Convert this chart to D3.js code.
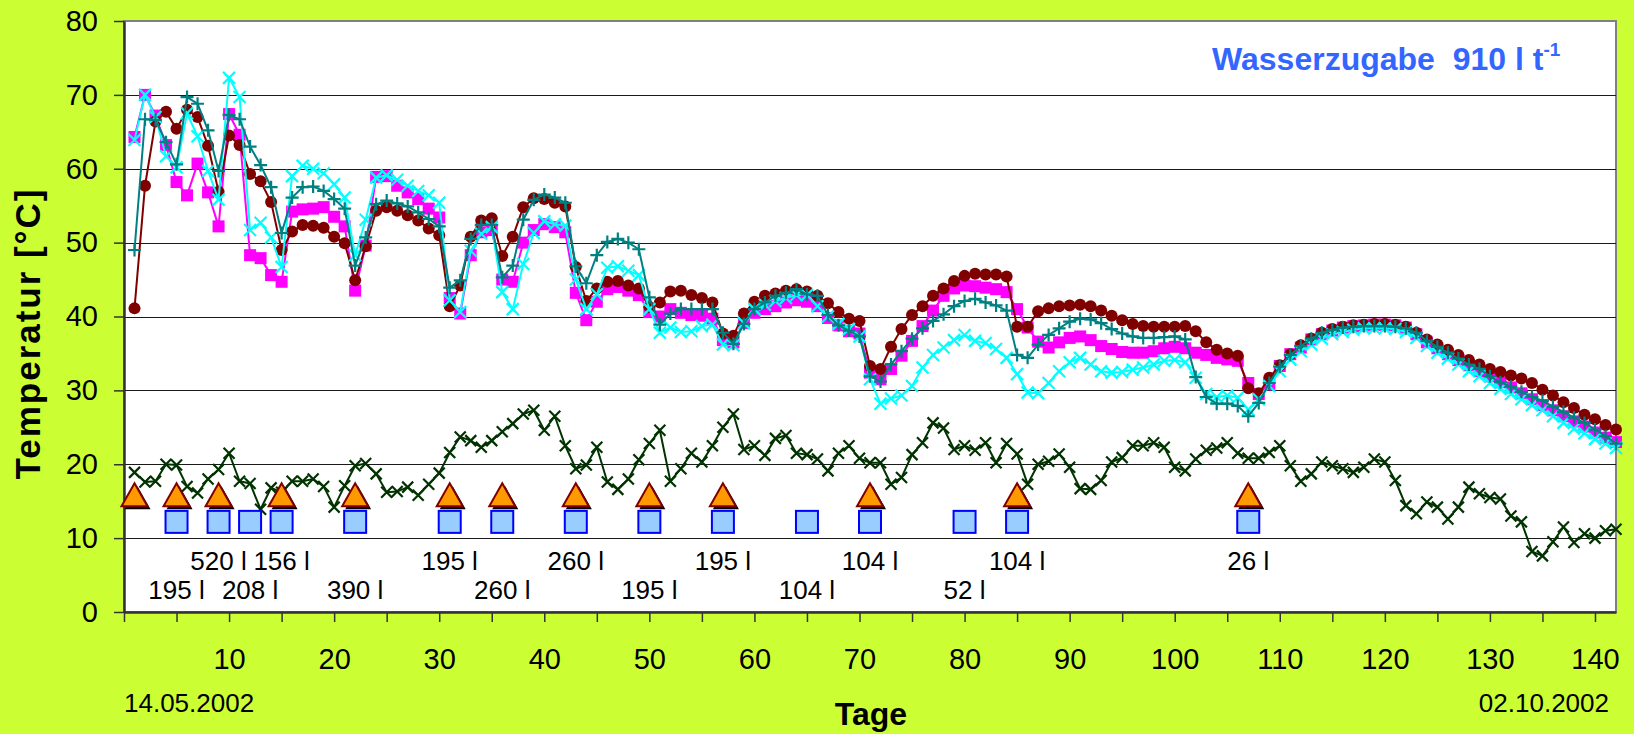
<!DOCTYPE html>
<html>
<head>
<meta charset="utf-8">
<script src="https://cdn.jsdelivr.net/npm/d3@7"></script>
<style>
  body { margin: 0; background: #ccff33; }
  svg { display: block; font-family: Arial, "Liberation Sans", sans-serif; }
</style>
</head>
<body>
<script>
// Tage 1..142
var days = d3.range(1, 143);

// Messreihen (Temperatur in °C)
var probeCircle = [
  41.1, 57.7, 66.4, 67.7, 65.4, 68.0, 67.0, 63.1, 56.9, 64.5,
  63.2, 59.3, 58.3, 55.5, 49.0, 51.5, 52.4, 52.3, 52.0, 50.8,
  49.9, 44.9, 49.5, 54.3, 54.8, 54.3, 53.7, 53.0, 51.9, 51.0,
  41.4, 44.2, 50.8, 53.0, 53.3, 48.2, 50.8, 54.8, 56.0, 55.9,
  55.4, 54.9, 46.7, 42.1, 43.8, 44.7, 44.8, 44.2, 43.8, 41.3,
  41.9, 43.4, 43.5, 42.9, 42.5, 41.9, 37.7, 37.4, 40.4, 42.0,
  42.8, 43.1, 43.5, 43.7, 43.4, 42.8, 41.8, 40.6, 39.7, 39.4,
  33.3, 32.9, 35.9, 38.3, 40.2, 41.4, 42.8, 43.8, 44.8, 45.5,
  45.8, 45.7, 45.7, 45.4, 38.6, 38.6, 40.7, 41.1, 41.4, 41.5,
  41.6, 41.4, 40.8, 40.1, 39.5, 39.0, 38.7, 38.6, 38.6, 38.6,
  38.7, 38.0, 36.5, 35.5, 35.0, 34.7, 30.3, 29.6, 31.7, 33.4,
  34.9, 36.1, 37.0, 37.8, 38.3, 38.6, 38.8, 38.9, 39.0, 39.0,
  38.9, 38.6, 37.8, 36.9, 36.2, 35.5, 34.8, 34.1, 33.5, 32.9,
  32.5, 32.0, 31.6, 31.0, 30.1, 29.3, 28.4, 27.6, 26.7, 26.1,
  25.3, 24.7
];
var probeSquare = [
  64.3, 70.0, 67.2, 63.2, 58.2, 56.4, 60.7, 56.8, 52.2, 67.4,
  64.6, 48.3, 47.9, 45.6, 44.7, 54.2, 54.5, 54.6, 54.8, 53.5,
  52.2, 43.5, 49.6, 58.9, 59.0, 57.7, 56.8, 55.9, 54.6, 53.4,
  42.5, 40.4, 48.3, 51.4, 51.7, 45.0, 44.7, 50.0, 51.7, 52.5,
  52.1, 51.4, 43.2, 39.5, 42.0, 43.7, 44.0, 43.5, 42.9, 40.6,
  40.0, 41.0, 40.5, 40.2, 40.1, 39.7, 36.8, 36.5, 39.1, 40.5,
  41.0, 41.4, 41.9, 42.2, 42.0, 41.4, 39.8, 38.8, 38.0, 37.7,
  32.4, 31.5, 32.9, 34.7, 36.7, 38.7, 40.8, 42.8, 43.8, 44.2,
  44.1, 43.9, 43.7, 43.3, 41.0, 38.5, 36.6, 35.8, 36.5, 37.1,
  37.3, 36.8, 36.0, 35.6, 35.2, 35.1, 35.1, 35.3, 35.7, 35.9,
  35.7, 35.1, 34.8, 34.4, 34.2, 34.0, 31.0, 29.5, 30.8, 33.3,
  34.9, 35.8, 36.9, 37.6, 38.1, 38.5, 38.7, 38.8, 38.9, 38.9,
  38.8, 38.5, 37.6, 36.5, 35.7, 34.9, 34.1, 33.4, 32.6, 31.9,
  31.1, 30.4, 29.6, 28.8, 28.0, 27.3, 26.5, 25.8, 25.1, 24.3,
  23.6, 23.0
];
var probePlus = [
  49.0, 66.7, 66.6, 63.6, 60.6, 69.7, 68.8, 65.2, 59.7, 67.3,
  66.7, 63.0, 60.5, 57.5, 51.3, 56.1, 57.5, 57.6, 57.0, 55.9,
  54.6, 46.9, 50.7, 55.2, 55.7, 55.3, 54.9, 54.1, 53.2, 52.2,
  43.9, 44.9, 50.5, 52.4, 52.4, 45.3, 46.9, 53.1, 55.8, 56.5,
  56.1, 55.4, 46.8, 44.5, 48.3, 50.1, 50.5, 50.0, 49.1, 42.6,
  38.9, 40.4, 41.0, 41.0, 41.0, 41.0, 37.8, 36.3, 39.0, 41.0,
  41.9, 42.8, 43.2, 43.7, 43.0, 42.8, 40.2, 38.8, 38.1, 37.3,
  31.9, 31.2, 33.5, 35.3, 37.0, 38.4, 39.4, 40.3, 41.4, 42.1,
  42.4, 41.9, 41.5, 40.8, 34.8, 34.4, 36.2, 37.5, 38.4, 39.3,
  39.7, 39.6, 39.1, 38.3, 37.7, 37.3, 37.1, 37.1, 37.2, 37.3,
  36.9, 31.8, 29.1, 28.2, 28.2, 27.9, 26.5, 28.3, 31.0, 33.2,
  34.8, 36.0, 37.0, 37.8, 38.2, 38.5, 38.6, 38.7, 38.7, 38.7,
  38.6, 38.4, 37.8, 36.7, 35.9, 35.1, 34.3, 33.5, 32.9, 31.9,
  31.1, 30.5, 29.8, 29.1, 28.6, 27.8, 27.1, 26.3, 25.6, 24.7,
  23.8, 22.8
];
var probeCross = [
  63.9, 70.0, 67.0, 61.7, 60.2, 67.5, 64.4, 59.7, 55.8, 72.3,
  69.7, 51.7, 52.7, 50.7, 46.7, 59.0, 60.4, 60.0, 59.4, 57.9,
  56.1, 48.3, 53.1, 58.8, 59.1, 58.5, 57.7, 57.0, 56.4, 55.4,
  42.2, 40.6, 48.9, 51.2, 52.1, 43.3, 41.0, 47.1, 51.3, 52.9,
  52.5, 52.3, 45.0, 41.0, 43.0, 46.6, 46.8, 46.2, 45.6, 41.0,
  37.8, 38.5, 37.9, 38.0, 38.7, 38.9, 36.2, 36.1, 39.1, 41.0,
  41.6, 42.1, 42.5, 42.9, 42.9, 41.4, 40.0, 39.0, 38.3, 37.3,
  31.5, 28.2, 28.9, 29.3, 30.6, 33.1, 34.8, 35.8, 36.8, 37.5,
  36.7, 36.4, 35.6, 34.4, 32.2, 29.7, 29.6, 31.0, 32.6, 33.8,
  34.4, 33.5, 32.6, 32.4, 32.5, 32.8, 33.1, 33.5, 34.0, 34.1,
  33.8, 31.7, 29.5, 29.1, 29.3, 29.0, 27.4, 28.8, 30.6, 32.6,
  34.2, 35.3, 36.2, 37.0, 37.6, 37.9, 38.2, 38.4, 38.4, 38.4,
  38.3, 37.9, 37.1, 36.0, 35.1, 34.3, 33.5, 32.6, 31.9, 31.0,
  30.2, 29.5, 28.8, 28.0, 27.3, 26.5, 25.6, 24.8, 24.2, 23.4,
  22.8, 22.2
];
var ambient = [
  18.9, 17.6, 17.7, 20.0, 19.9, 17.0, 16.1, 18.0, 19.3, 21.5,
  17.7, 17.4, 13.9, 16.8, 16.2, 17.7, 17.7, 18.0, 17.0, 14.2,
  17.1, 19.8, 20.1, 18.7, 16.2, 16.3, 16.9, 15.8, 17.3, 18.8,
  21.6, 23.7, 23.2, 22.3, 23.2, 24.4, 25.5, 26.8, 27.3, 24.6,
  26.5, 22.5, 19.4, 19.9, 22.3, 17.6, 16.6, 18.0, 20.6, 22.8,
  24.6, 17.7, 19.4, 21.5, 20.3, 22.5, 25.0, 26.8, 22.0, 22.5,
  21.2, 23.5, 23.9, 21.5, 21.3, 20.7, 19.1, 21.5, 22.5, 20.8,
  20.2, 20.2, 17.3, 18.2, 21.3, 22.9, 25.6, 24.9, 22.0, 22.5,
  21.9, 22.9, 20.2, 22.8, 21.4, 17.3, 20.0, 20.4, 21.4, 19.6,
  16.7, 16.6, 17.8, 20.3, 20.9, 22.5, 22.5, 22.9, 22.3, 19.6,
  19.1, 20.7, 21.9, 22.2, 22.9, 21.5, 20.8, 20.8, 21.6, 22.5,
  19.8, 17.7, 18.7, 20.3, 19.8, 19.4, 18.9, 19.6, 20.7, 20.3,
  17.8, 14.4, 13.3, 14.9, 14.2, 12.6, 14.2, 16.9, 16.0, 15.5,
  15.3, 13.0, 12.2, 8.2, 7.6, 9.5, 11.5, 9.4, 10.6, 10.0,
  11.0, 11.2
];

// Umsetzen (Dreiecke) und Wasserzugabe (Quadrate)
var turnDays = [1, 5, 9, 15, 22, 31, 36, 43, 50, 57, 71, 85, 107];
var turnLevel = 15.8;
var waterDays = [5, 9, 12, 15, 22, 31, 36, 43, 50, 57, 65, 71, 80, 85, 107];
var waterAmounts = [195, 520, 208, 156, 390, 195, 260, 260, 195, 195, 104, 104, 52, 104, 26];
var waterRows = [1, 0, 1, 0, 1, 0, 1, 0, 1, 0, 1, 0, 1, 0, 0];
var waterLevel = 12.2;

var yTicks = [0, 10, 20, 30, 40, 50, 60, 70, 80];
var xTicks = d3.range(0, 141, 5);

var chart = {
  width: 1634,
  height: 734,
  left: 124,
  right: 1616,
  top: 21,
  bottom: 612
};

var x = d3.scaleLinear().domain([0, 142]).range([chart.left, chart.right]);
var y = d3.scaleLinear().domain([0, 80]).range([chart.bottom, chart.top]);

var svg = d3.select('body').append('svg')
  .attr('width', chart.width)
  .attr('height', chart.height);

svg.append('rect')
  .attr('width', chart.width)
  .attr('height', chart.height)
  .attr('fill', '#ccff33');

// plot area
svg.append('rect')
  .attr('x', chart.left)
  .attr('y', chart.top)
  .attr('width', chart.right - chart.left)
  .attr('height', chart.bottom - chart.top)
  .attr('fill', 'white')
  .attr('stroke', '#808080')
  .attr('stroke-width', 2);

svg.append('g')
  .selectAll('line')
  .data(yTicks.filter(function(t) { return t > 0 && t < 80; }))
  .enter().append('line')
  .attr('x1', chart.left)
  .attr('x2', chart.right)
  .attr('y1', function(d) { return Math.round(y(d)) + 0.5; })
  .attr('y2', function(d) { return Math.round(y(d)) + 0.5; })
  .attr('stroke', '#1a1a1a')
  .attr('stroke-width', 1.2);

// axes
var yAxis = svg.append('g')
  .attr('transform', 'translate(' + chart.left + ',0)')
  .call(d3.axisLeft(y).tickValues(yTicks).tickSize(10).tickSizeOuter(0).tickPadding(16));

var xAxis = svg.append('g')
  .attr('transform', 'translate(0,' + chart.bottom + ')')
  .call(d3.axisBottom(x).tickValues(xTicks).tickSize(10).tickSizeOuter(0).tickPadding(26)
    .tickFormat(function(d) { return (d > 0 && d % 10 === 0) ? d : ''; }));

[yAxis, xAxis].forEach(function(ax) {
  ax.select('.domain').attr('stroke', '#333').attr('stroke-width', 2.5);
  ax.selectAll('.tick line').attr('stroke', '#333').attr('stroke-width', 1.5);
  ax.selectAll('.tick text')
    .attr('fill', 'black')
    .style('font-size', '29px')
    .style('font-family', 'Arial, "Liberation Sans", sans-serif');
});

// series
var line = d3.line()
  .x(function(d) { return x(d.day); })
  .y(function(d) { return y(d.value); });

var toPoints = function(values) {
  return values.map(function(v, i) { return { day: days[i], value: v }; });
};

var crossPath = function(s) {
  return 'M' + (-s) + ',' + (-s) + 'L' + s + ',' + s + 'M' + (-s) + ',' + s + 'L' + s + ',' + (-s);
};
var plusPath = function(s) {
  return 'M' + (-s) + ',0L' + s + ',0M0,' + (-s) + 'L0,' + s;
};

var drawSeries = function(values, color, marker, size) {
  var pts = toPoints(values);
  var g = svg.append('g');
  g.append('path')
    .datum(pts)
    .attr('d', line)
    .attr('fill', 'none')
    .attr('stroke', color)
    .attr('stroke-width', 2);

  var m = g.selectAll('.m').data(pts).enter();
  if (marker === 'circle') {
    m.append('circle')
      .attr('cx', function(d) { return x(d.day); })
      .attr('cy', function(d) { return y(d.value); })
      .attr('r', size)
      .attr('fill', color);
  } else if (marker === 'square') {
    m.append('rect')
      .attr('x', function(d) { return x(d.day) - size; })
      .attr('y', function(d) { return y(d.value) - size; })
      .attr('width', size * 2)
      .attr('height', size * 2)
      .attr('fill', color);
  } else {
    m.append('path')
      .attr('transform', function(d) { return 'translate(' + x(d.day) + ',' + y(d.value) + ')'; })
      .attr('d', marker === 'plus' ? plusPath(size) : crossPath(size))
      .attr('fill', 'none')
      .attr('stroke', color)
      .attr('stroke-width', 2.2);
  }
};

drawSeries(probeSquare, '#ff00ff', 'square', 6);
drawSeries(probeCircle, '#800000', 'circle', 6);
drawSeries(probeCross, '#00ffff', 'cross', 6);
drawSeries(probePlus, '#008080', 'plus', 6.5);
drawSeries(ambient, '#003300', 'cross', 5.5);

// Umsetzen markers
var tri = function(cx, cy) {
  return 'M' + cx + ',' + (cy - 12) + 'L' + (cx + 13) + ',' + (cy + 11) + 'L' + (cx - 13) + ',' + (cy + 11) + 'Z';
};
var turns = svg.append('g').selectAll('g').data(turnDays).enter().append('g');
turns.append('path')
  .attr('d', function(d) { return tri(x(d) + 3, y(turnLevel) + 3); })
  .attr('fill', 'black');
turns.append('path')
  .attr('d', function(d) { return tri(x(d), y(turnLevel)); })
  .attr('fill', '#ff9900')
  .attr('stroke', '#800000')
  .attr('stroke-width', 2);

// Wasserzugabe markers and labels
svg.append('g').selectAll('rect').data(waterDays).enter().append('rect')
  .attr('x', function(d) { return x(d) - 11; })
  .attr('y', function(d) { return y(waterLevel) - 11; })
  .attr('width', 22)
  .attr('height', 22)
  .attr('fill', '#99ccff')
  .attr('stroke', '#0000ff')
  .attr('stroke-width', 2);

svg.append('g').selectAll('text').data(waterDays).enter().append('text')
  .attr('x', function(d) { return x(d); })
  .attr('y', function(d, i) { return y(waterLevel) + (waterRows[i] ? 77 : 48); })
  .attr('text-anchor', 'middle')
  .style('font-size', '26px')
  .text(function(d, i) { return waterAmounts[i] + ' l'; });

// titles
svg.append('text')
  .attr('transform', 'translate(40,' + ((chart.top + chart.bottom) / 2 + 18) + ') rotate(-90)')
  .attr('text-anchor', 'middle')
  .attr('textLength', 290)
  .attr('lengthAdjust', 'spacing')
  .style('font-size', '35px')
  .style('font-weight', 'bold')
  .text('Temperatur [°C]');

svg.append('text')
  .attr('x', (chart.left + chart.right) / 2 + 1)
  .attr('y', 725)
  .attr('text-anchor', 'middle')
  .style('font-size', '32px')
  .style('font-weight', 'bold')
  .text('Tage');

svg.append('text')
  .attr('x', x(0))
  .attr('y', 712)
  .style('font-size', '26px')
  .text('14.05.2002');

svg.append('text')
  .attr('x', chart.right - 7)
  .attr('y', 712)
  .attr('text-anchor', 'end')
  .style('font-size', '26px')
  .text('02.10.2002');

var title = svg.append('text')
  .attr('x', 1212)
  .attr('y', 70)
  .attr('fill', '#3366ff')
  .style('font-size', '32px')
  .style('font-weight', 'bold')
  .attr('xml:space', 'preserve');
title.append('tspan').text('Wasserzugabe  910 l t');
title.append('tspan').attr('dy', -14).style('font-size', '19px').text('-1');
</script>
</body>
</html>
